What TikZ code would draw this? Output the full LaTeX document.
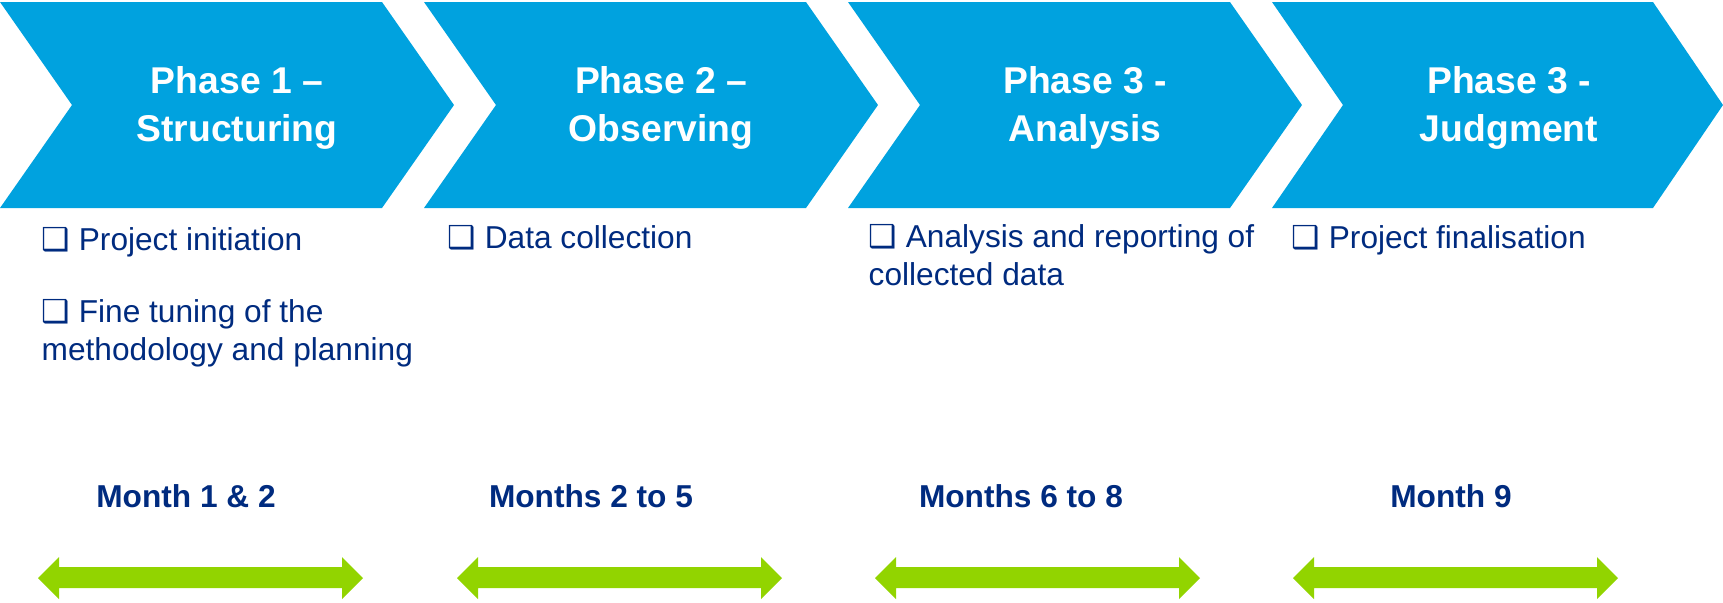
\documentclass[tikz,border=0pt]{standalone}
\usepackage{fontspec}
\setmainfont{Liberation Sans}
\newfontfamily\symbolfont{DejaVu Sans}
\usepackage{tikz}
\usetikzlibrary{positioning}

\newcommand{\chk}{{\symbolfont\fontsize{9}{9}\selectfont ❑}\ }

\begin{document}
\begin{tikzpicture}[x=0.01cm, y=-0.01cm,
  phasetitle/.style={text=white, font=\fontsize{10.6}{13.7}\selectfont\bfseries, align=center, inner sep=0pt},
  tasktext/.style={text=navy, font=\fontsize{9}{10.8}\selectfont, align=left, anchor=base west, inner sep=0pt},
  monthtext/.style={text=navy, font=\fontsize{9}{11}\selectfont\bfseries, anchor=base, inner sep=0pt},
  spanarrow/.style={fill=spangreen}]
  \definecolor{phaseblue}{HTML}{00A2DF}
  \definecolor{navy}{HTML}{002B7F}
  \definecolor{spangreen}{HTML}{92D400}

  \useasboundingbox (0,0) rectangle (1723,602);

  % chevrons
  \fill[phaseblue] (0,2) -- (382,2) -- (454,105) -- (382,208) -- (0,208) -- (72,105) -- cycle;
  \fill[phaseblue] (424,2) -- (806,2) -- (878,105) -- (806,208) -- (424,208) -- (496,105) -- cycle;
  \fill[phaseblue] (848,2) -- (1230,2) -- (1302,105) -- (1230,208) -- (848,208) -- (920,105) -- cycle;
  \fill[phaseblue] (1272,2) -- (1653,2) -- (1723,105) -- (1653,208) -- (1272,208) -- (1343,105) -- cycle;

  \node[phasetitle] (ph1) at (237,108) {Phase 1 --\\Structuring};
  \node[phasetitle] (ph2) at (661,108) {Phase 2 --\\Observing};
  \node[phasetitle] (ph3) at (1085,108) {Phase 3 -\\Analysis};
  \node[phasetitle] (ph4) at (1509,108) {Phase 3 -\\Judgment};

  % tasks (base = last line)
  \node[tasktext] (task1a) at (41,250) {\chk Project initiation};
  \node[tasktext] (task1b) at (41,360) {\chk Fine tuning of the\\methodology and planning};
  \node[tasktext] (task2a) at (447,248) {\chk Data collection};
  \node[tasktext] (task3a) at (868,285) {\chk Analysis and reporting of\\collected data};
  \node[tasktext] (task4a) at (1291,248) {\chk Project finalisation};

  % durations
  \node[monthtext] (month1) at (186,507) {Month 1 \& 2};
  \node[monthtext] (month2) at (591,507) {Months 2 to 5};
  \node[monthtext] (month3) at (1021,507) {Months 6 to 8};
  \node[monthtext] (month4) at (1451,507) {Month 9};

  \fill[spanarrow] (38,578) -- (59,557) -- (59,567) -- (342,567) -- (342,557) -- (363,578) -- (342,599) -- (342,588) -- (59,588) -- (59,599) -- cycle;
  \fill[spanarrow] (457,578) -- (478,557) -- (478,567) -- (761,567) -- (761,557) -- (782,578) -- (761,599) -- (761,588) -- (478,588) -- (478,599) -- cycle;
  \fill[spanarrow] (875,578) -- (896,557) -- (896,567) -- (1179,567) -- (1179,557) -- (1200,578) -- (1179,599) -- (1179,588) -- (896,588) -- (896,599) -- cycle;
  \fill[spanarrow] (1293,578) -- (1314,557) -- (1314,567) -- (1597,567) -- (1597,557) -- (1618,578) -- (1597,599) -- (1597,588) -- (1314,588) -- (1314,599) -- cycle;
\end{tikzpicture}
\end{document}
